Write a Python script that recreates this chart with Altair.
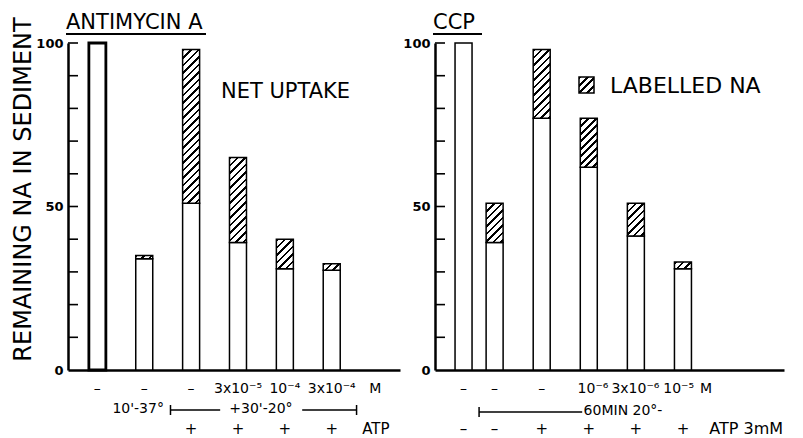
import altair as alt
import pandas as pd

# ---------------- data ----------------
y_minor_ticks = [10, 20, 30, 40, 50, 60, 70, 80, 90, 100]
y_labels = [0, 50, 100]

# ANTIMYCIN A panel
left_pos = [1, 2, 3, 4, 5, 6]
left_unlabelled = [100, 34, 51, 39, 31, 30.5]
left_total = [100, 35, 98, 65, 40, 32.5]
left_row1 = ["–", "–", "–", "3x10⁻⁵", "10⁻⁴", "3x10⁻⁴", "M"]
left_row1_pos = [1, 2, 3, 4, 5, 6, 6.93]
left_row3 = ["+", "+", "+", "+", "ATP"]
left_row3_pos = [3, 4, 5, 6, 6.94]

# CCP panel
right_pos = [1, 1.66, 2.66, 3.66, 4.66, 5.66]
right_unlabelled = [100, 39, 77, 62, 41, 31]
right_total = [100, 51, 98, 77, 51, 33]
right_row1 = ["–", "–", "–", "10⁻⁶", "3x10⁻⁶", "10⁻⁵", "M"]
right_row1_pos = [1, 1.66, 2.66, 3.75, 4.65, 5.57, 6.15]
right_row3 = ["–", "–", "+", "+", "+", "+"]
right_row3_pos = [1, 1.66, 2.66, 3.66, 4.66, 5.66]

FONT = "DejaVu Sans"
INK = "black"
H = 327
BAR_W = 17


def hatch(w, h, period=7.5, frac=0.34):
    """Diagonal '////' hatching as a linear gradient with sharp stops."""
    L = w + h
    n = L / period
    stops = []
    k = 0
    while k < n:
        s = k / n
        e = min((k + frac) / n, 1.0)
        stops += [
            {"offset": s, "color": "white"},
            {"offset": s, "color": INK},
            {"offset": e, "color": INK},
            {"offset": e, "color": "white"},
        ]
        k += 1
    stops.append({"offset": 1.0, "color": "white"})
    a = w * (w + h) / (w * w + h * h)
    b = h * (w + h) / (w * w + h * h)
    return {"gradient": "linear", "x1": 0, "y1": 0, "x2": a, "y2": b, "stops": stops}


def panel(pos, unl, tot, xdom, ytitle, title, title_w,
          row1, row1_pos, row3, row3_pos, thick_first):
    df = pd.DataFrame({"pos": pos, "unl": unl, "tot": tot})
    xs = alt.Scale(domain=xdom, nice=False, zero=False)
    ys = alt.Scale(domain=[0, 100], nice=False)
    xaxis = alt.Axis(labels=False, ticks=False, grid=False, title=None,
                     domainColor=INK, domainWidth=2.5)
    yaxis_kw = dict(values=y_labels, ticks=False, grid=False,
                    domainColor=INK, domainWidth=2.5,
                    labelFont=FONT, labelFontSize=13, labelFontWeight="bold",
                    labelColor=INK, labelPadding=5)
    if ytitle:
        yaxis = alt.Axis(title=ytitle, titleFont=FONT, titleFontSize=24,
                         titleFontWeight="normal", titleColor=INK,
                         titlePadding=0, titleY=146, **yaxis_kw)
    else:
        yaxis = alt.Axis(title=None, **yaxis_kw)

    def X(f):
        return alt.X(f, scale=xs, axis=xaxis)

    def Y(f):
        return alt.Y(f, scale=ys, axis=yaxis)

    layers = []
    layers.append(
        alt.Chart(df).mark_bar(size=BAR_W, fill="white", stroke=INK, strokeWidth=1.5)
        .encode(x=X("pos:Q"), y=Y("unl:Q"))
    )
    if thick_first:
        layers.append(
            alt.Chart(df[df.pos == pos[0]]).mark_bar(
                size=BAR_W, fill="white", stroke=INK, strokeWidth=2.8)
            .encode(x=X("pos:Q"), y=Y("unl:Q"))
        )
    for p, u, t in zip(pos, unl, tot):
        if t - u <= 0:
            continue
        hpx = (t - u) * H / 100.0
        layers.append(
            alt.Chart(df[df.pos == p]).mark_bar(
                size=BAR_W, fill=hatch(BAR_W, hpx), stroke=INK, strokeWidth=1.5)
            .encode(x=X("pos:Q"), y=Y("tot:Q"), y2="unl:Q")
        )
    # inward minor ticks on the y axis
    layers.append(
        alt.Chart(pd.DataFrame({"v": y_minor_ticks})).mark_rule(strokeWidth=1.6, color=INK)
        .encode(y=Y("v:Q"), x=alt.value(0), x2=alt.value(10))
    )
    # rows of condition labels beneath the axis
    r1 = pd.DataFrame({"pos": row1_pos, "label": row1})
    layers.append(
        alt.Chart(r1).mark_text(font=FONT, fontSize=14, color=INK, baseline="middle")
        .encode(x=X("pos:Q"), y=alt.value(H + 19), text="label:N")
    )
    r3 = pd.DataFrame({"pos": row3_pos, "label": row3})
    layers.append(
        alt.Chart(r3).mark_text(font=FONT, fontSize=15, color=INK, baseline="middle")
        .encode(x=X("pos:Q"), y=alt.value(H + 59), text="label:N")
    )
    # panel title with underline
    layers.append(
        alt.Chart(pd.DataFrame({"t": [title]})).mark_text(
            font=FONT, fontSize=21, color=INK, align="left", baseline="alphabetic")
        .encode(x=alt.value(-2), y=alt.value(-14), text="t:N")
    )
    layers.append(
        alt.Chart(pd.DataFrame({"t": [title]})).mark_rule(strokeWidth=2, color=INK)
        .encode(x=alt.value(-2), x2=alt.value(title_w), y=alt.value(-9))
    )
    return layers, X


# ---------- left panel: ANTIMYCIN A ----------
WL = 332
left_layers, XL = panel(left_pos, left_unlabelled, left_total, [0.48, 7.35],
                        "REMAINING NA IN SEDIMENT", "ANTIMYCIN A", 138,
                        left_row1, left_row1_pos, left_row3, left_row3_pos, True)
lb = pd.DataFrame({"a": [2.56, 5.37], "b": [3.62, 6.53]})
left_layers.append(
    alt.Chart(lb).mark_rule(strokeWidth=1.5, color=INK)
    .encode(x=XL("a:Q"), x2="b:Q", y=alt.value(H + 40))
)
lt = pd.DataFrame({"a": [2.56, 6.53]})
left_layers.append(
    alt.Chart(lt).mark_rule(strokeWidth=1.5, color=INK)
    .encode(x=XL("a:Q"), y=alt.value(H + 35), y2=alt.value(H + 45))
)
left_layers.append(
    alt.Chart(pd.DataFrame({"pos": [2.42], "label": ["10'-37°"]}))
    .mark_text(font=FONT, fontSize=14, color=INK, align="right", baseline="middle")
    .encode(x=XL("pos:Q"), y=alt.value(H + 39), text="label:N")
)
left_layers.append(
    alt.Chart(pd.DataFrame({"pos": [4.49], "label": ["+30'-20°"]}))
    .mark_text(font=FONT, fontSize=14, color=INK, align="center", baseline="middle")
    .encode(x=XL("pos:Q"), y=alt.value(H + 39), text="label:N")
)
left_layers.append(
    alt.Chart(pd.DataFrame({"t": ["NET UPTAKE"]}))
    .mark_text(font=FONT, fontSize=21, color=INK, align="left", baseline="alphabetic")
    .encode(x=alt.value(153), y=alt.value(55), text="t:N")
)
left = alt.layer(*left_layers).properties(width=WL, height=H)

# ---------- right panel: CCP ----------
WR = 349
right_layers, XR = panel(right_pos, right_unlabelled, right_total, [0.5, 7.7],
                         None, "CCP", 47,
                         right_row1, right_row1_pos, right_row3, right_row3_pos, False)
rb = pd.DataFrame({"a": [1.33], "b": [3.52]})
right_layers.append(
    alt.Chart(rb).mark_rule(strokeWidth=1.5, color=INK)
    .encode(x=XR("a:Q"), x2="b:Q", y=alt.value(H + 42))
)
right_layers.append(
    alt.Chart(rb).mark_rule(strokeWidth=1.5, color=INK)
    .encode(x=XR("a:Q"), y=alt.value(H + 37), y2=alt.value(H + 47))
)
right_layers.append(
    alt.Chart(pd.DataFrame({"pos": [3.55], "label": ["60MIN 20°-"]}))
    .mark_text(font=FONT, fontSize=14, color=INK, align="left", baseline="middle")
    .encode(x=XR("pos:Q"), y=alt.value(H + 41), text="label:N")
)
right_layers.append(
    alt.Chart(pd.DataFrame({"pos": [6.22], "label": ["ATP 3mM"]}))
    .mark_text(font=FONT, fontSize=16, color=INK, align="left", baseline="middle")
    .encode(x=XR("pos:Q"), y=alt.value(H + 59), text="label:N")
)
right_layers.append(
    alt.Chart(pd.DataFrame({"t": ["LABELLED NA"]}))
    .mark_rect(fill=hatch(15, 16), stroke=INK, strokeWidth=1.5)
    .encode(x=alt.value(144), x2=alt.value(159), y=alt.value(34), y2=alt.value(50))
)
right_layers.append(
    alt.Chart(pd.DataFrame({"t": ["LABELLED NA"]}))
    .mark_text(font=FONT, fontSize=22, color=INK, align="left", baseline="alphabetic")
    .encode(x=alt.value(175), y=alt.value(50), text="t:N")
)
right = alt.layer(*right_layers).properties(width=WR, height=H)

chart = (
    alt.hconcat(left, right, spacing=2)
    .properties(padding={"left": 3, "top": 4, "right": 5, "bottom": 5}, background="white")
    .configure_view(strokeWidth=0)
)

chart.save("out.html", embed_options={"renderer": "svg", "actions": False})
